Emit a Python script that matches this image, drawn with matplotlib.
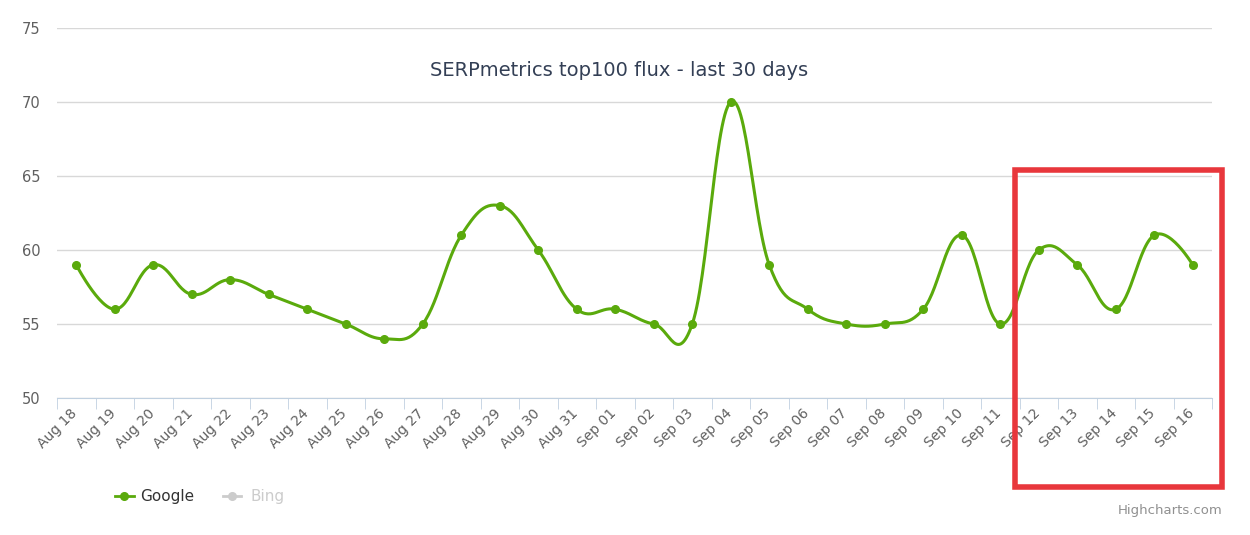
import numpy as np
import matplotlib
matplotlib.use("Agg")
import matplotlib.pyplot as plt
from matplotlib.patches import Rectangle
from matplotlib.lines import Line2D
from matplotlib.transforms import ScaledTranslation

dates = ["Aug 18","Aug 19","Aug 20","Aug 21","Aug 22","Aug 23","Aug 24","Aug 25","Aug 26","Aug 27",
         "Aug 28","Aug 29","Aug 30","Aug 31","Sep 01","Sep 02","Sep 03","Sep 04","Sep 05","Sep 06",
         "Sep 07","Sep 08","Sep 09","Sep 10","Sep 11","Sep 12","Sep 13","Sep 14","Sep 15","Sep 16"]
google = [59,56,59,57,58,57,56,55,54,55,61,63,60,56,56,55,55,70,59,56,55,55,56,61,55,60,59,56,61,59]
yticks = [50,55,60,65,70,75]

GREEN = "#5aaa0c"
GRID = "#d8d8d8"
TXT = "#606060"

def hc_spline(xs, ys, smoothing=1.5, n=30):
    denom = smoothing + 1
    cps = []
    for i in range(len(xs)):
        if 0 < i < len(xs) - 1:
            lx = (smoothing * xs[i] + xs[i-1]) / denom
            ly = (smoothing * ys[i] + ys[i-1]) / denom
            rx = (smoothing * xs[i] + xs[i+1]) / denom
            ry = (smoothing * ys[i] + ys[i+1]) / denom
            corr = ((ry - ly) * (rx - xs[i])) / (rx - lx) + ys[i] - ry if rx != lx else 0
            ly += corr; ry += corr
            cps.append(((lx, ly), (rx, ry)))
        else:
            cps.append(((xs[i], ys[i]), (xs[i], ys[i])))
    px, py = [], []
    t = np.linspace(0, 1, n)
    for i in range(len(xs) - 1):
        p0 = np.array([xs[i], ys[i]]); p3 = np.array([xs[i+1], ys[i+1]])
        p1 = np.array(cps[i][1]); p2 = np.array(cps[i+1][0])
        pts = ((1-t)**3)[:,None]*p0 + (3*(1-t)**2*t)[:,None]*p1 + (3*(1-t)*t**2)[:,None]*p2 + (t**3)[:,None]*p3
        px.extend(pts[:,0]); py.extend(pts[:,1])
    return np.array(px), np.array(py)

fig = plt.figure(figsize=(12.5, 5.35), dpi=100)
ax = fig.add_axes([0.0456, 0.256, 0.924, 0.6917])
x = np.arange(len(dates))
sx, sy = hc_spline(list(x.astype(float)), [float(v) for v in google])
ax.plot(sx, sy, color=GREEN, lw=2.2, zorder=3)
ax.plot(x, google, "o", color=GREEN, ms=5.5, zorder=4)

ax.set_xlim(-0.47, 29.5)
ax.set_ylim(50, 75)
ax.set_yticks(yticks)
ax.set_yticklabels([str(v) for v in yticks], color=TXT, fontsize=10.5)
ax.yaxis.grid(True, color=GRID, lw=1)
ax.set_axisbelow(True)
ax.tick_params(axis="y", length=0, pad=12)
ax.set_xticks(x)
ax.set_xticklabels(dates, rotation=45, ha="right", rotation_mode="anchor", color=TXT, fontsize=10)
ax.tick_params(axis="x", length=0, pad=6)
offset = ScaledTranslation(-6/100, 0, fig.dpi_scale_trans)
for lbl in ax.get_xticklabels():
    lbl.set_transform(lbl.get_transform() + offset)
for s in ["top", "right", "left"]:
    ax.spines[s].set_visible(False)
ax.spines["bottom"].set_color("#c0d0e0")
ax.set_xticks(np.arange(-0.5, 30, 1), minor=True)
ax.tick_params(axis="x", which="minor", length=8, color="#c0d0e0")

fig.text(0.495, 0.869, "SERPmetrics top100 flux - last 30 days", ha="center", va="center",
         fontsize=14, color="#333f55")

fig.add_artist(Line2D([0.092, 0.107], [0.072, 0.072], color=GREEN, lw=2))
fig.add_artist(Line2D([0.0995], [0.072], color=GREEN, marker="o", ms=5.5))
fig.text(0.112, 0.072, "Google", va="center", fontsize=11, color="#333333")
fig.add_artist(Line2D([0.178, 0.193], [0.072, 0.072], color="#cccccc", lw=2))
fig.add_artist(Line2D([0.1855], [0.072], color="#cccccc", marker="o", ms=5.5))
fig.text(0.2, 0.072, "Bing", va="center", fontsize=11, color="#cccccc")
fig.text(0.978, 0.045, "Highcharts.com", ha="right", va="center", fontsize=9.5, color="#909090")

fig.add_artist(Rectangle((1015/1250, 1-487/535), 207/1250, 317/535, fill=False,
                         edgecolor="#e8373c", lw=4, transform=fig.transFigure))

fig.savefig("out.png", dpi=100, facecolor="white")
